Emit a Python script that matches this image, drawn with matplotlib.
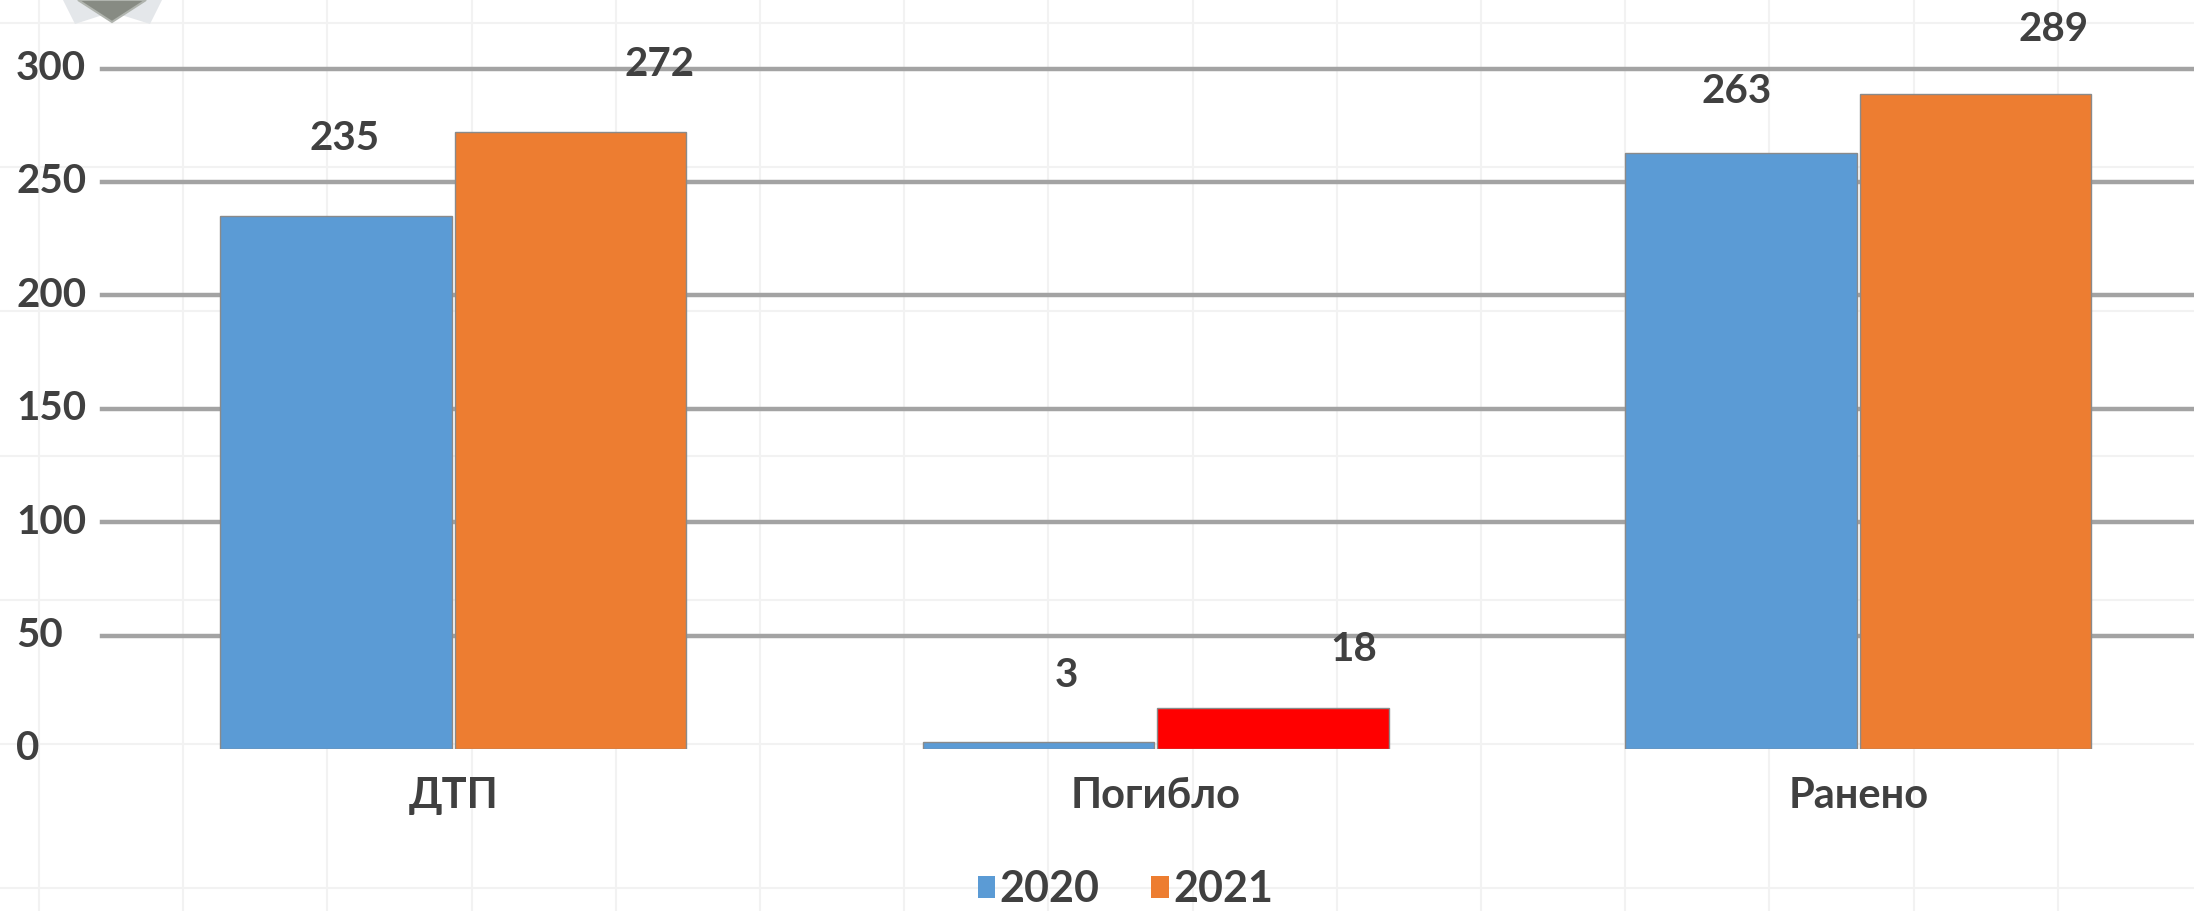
import matplotlib
matplotlib.use("Agg")
import matplotlib.pyplot as plt
from matplotlib.patches import Patch, Polygon
from matplotlib.lines import Line2D
import matplotlib.transforms as mtransforms
import numpy as np

categories = ["ДТП", "Погибло", "Ранено"]
series_names = ["2020", "2021"]
values_2020 = [235, 3, 263]
values_2021 = [272, 18, 289]
yticks = [0, 50, 100, 150, 200, 250, 300]

# label placement offsets (points), style only
label_off_2020 = [(6, 56), (20, 48), (-3, 44)]
label_off_2021 = [(64, 49), (58, 42), (56, 46)]

c_blue = "#5B9BD5"
c_orange = "#ED7D31"
c_red = "#FF0000"
colors_2020 = [c_blue, c_blue, c_blue]
colors_2021 = [c_orange, c_red, c_orange]
text_col = "#404040"

plt.rcParams["font.family"] = ["Lato", "DejaVu Sans"]
plt.rcParams["font.weight"] = "bold"

W, H = 2194, 911
fig = plt.figure(figsize=(W / 100, H / 100), dpi=100)
fig.patch.set_facecolor("white")

# faint background texture grid
for xp in np.arange(39, W, 144.2):
    fig.add_artist(Line2D([xp / W, xp / W], [0, 1], color="#F2F2F2", lw=1.5, zorder=0))
for yp in np.arange(23, H, 144.2):
    fig.add_artist(Line2D([0, 1], [1 - yp / H, 1 - yp / H], color="#F2F2F2", lw=1.5, zorder=0))

# small logo hint at top-left
wings = Polygon([[63 / W, 1.0], [75 / W, 1 - 24 / H], [112 / W, 1 - 12 / H],
                 [150 / W, 1 - 24 / H], [162 / W, 1.0]],
                closed=True, transform=fig.transFigure, facecolor="#E4E7EA",
                edgecolor="none", zorder=1)
fig.add_artist(wings)
logo = Polygon([[78 / W, 1.0], [112 / W, 1 - 22 / H], [146 / W, 1.0]],
               closed=True, transform=fig.transFigure, facecolor="#878B83",
               edgecolor="#B0B4AE", lw=1.5, zorder=2)
fig.add_artist(logo)

ax_left = 102 / W
ax_bottom = (H - 749) / H
ax_top = (H - 68.6) / H
ax = fig.add_axes([ax_left, ax_bottom, 1 - ax_left, ax_top - ax_bottom])
ax.set_facecolor("none")

x = np.arange(len(categories))
bw = 0.33
off = 0.167
bars1 = ax.bar(x - off, values_2020, width=bw, color=colors_2020,
               edgecolor="#8A8A8A", linewidth=1.0, zorder=3)
bars2 = ax.bar(x + off, values_2021, width=bw, color=colors_2021,
               edgecolor="#8A8A8A", linewidth=1.0, zorder=3)

ax.set_ylim(0, 300)
ax.set_xlim(-0.5, 2.478)

# gridlines (no zero line)
for t in yticks[1:]:
    ax.axhline(t, color="#A3A3A3", lw=3.2, zorder=1, clip_on=False)

for s in ax.spines.values():
    s.set_visible(False)
ax.tick_params(axis="both", length=0)
ax.set_yticks([])
ax.set_xticks(x)
ax.set_xticklabels(categories, fontsize=30, color=text_col, fontweight="bold")
ax.tick_params(axis="x", pad=20)

# y tick labels, left-aligned near figure edge
trans = mtransforms.blended_transform_factory(fig.transFigure, ax.transData)
for t in yticks:
    ax.text(16 / W, t, str(t), transform=trans, ha="left", va="center",
            fontsize=29, color=text_col, fontweight="bold")

# data labels
for b, v, o in zip(bars1, values_2020, label_off_2020):
    ax.annotate(str(v), xy=(b.get_x() + b.get_width() / 2, v),
                xytext=o, textcoords="offset points",
                ha="center", va="center", fontsize=29, color=text_col,
                fontweight="bold")
for b, v, o in zip(bars2, values_2021, label_off_2021):
    ax.annotate(str(v), xy=(b.get_x() + b.get_width() / 2, v),
                xytext=o, textcoords="offset points",
                ha="center", va="center", fontsize=29, color=text_col,
                fontweight="bold", annotation_clip=False)

handles = [Patch(facecolor=c_blue, edgecolor="none"),
           Patch(facecolor=c_orange, edgecolor="none")]
leg = fig.legend(handles, series_names, loc="center", bbox_to_anchor=(0.513, 0.024),
                 ncol=2, frameon=False, fontsize=31, handlelength=0.4,
                 handleheight=0.4, handletextpad=0.1, columnspacing=1.2,
                 borderpad=0.0)
for t in leg.get_texts():
    t.set_color(text_col)
    t.set_fontweight("bold")

fig.savefig("out.png", dpi=100, facecolor="white")
